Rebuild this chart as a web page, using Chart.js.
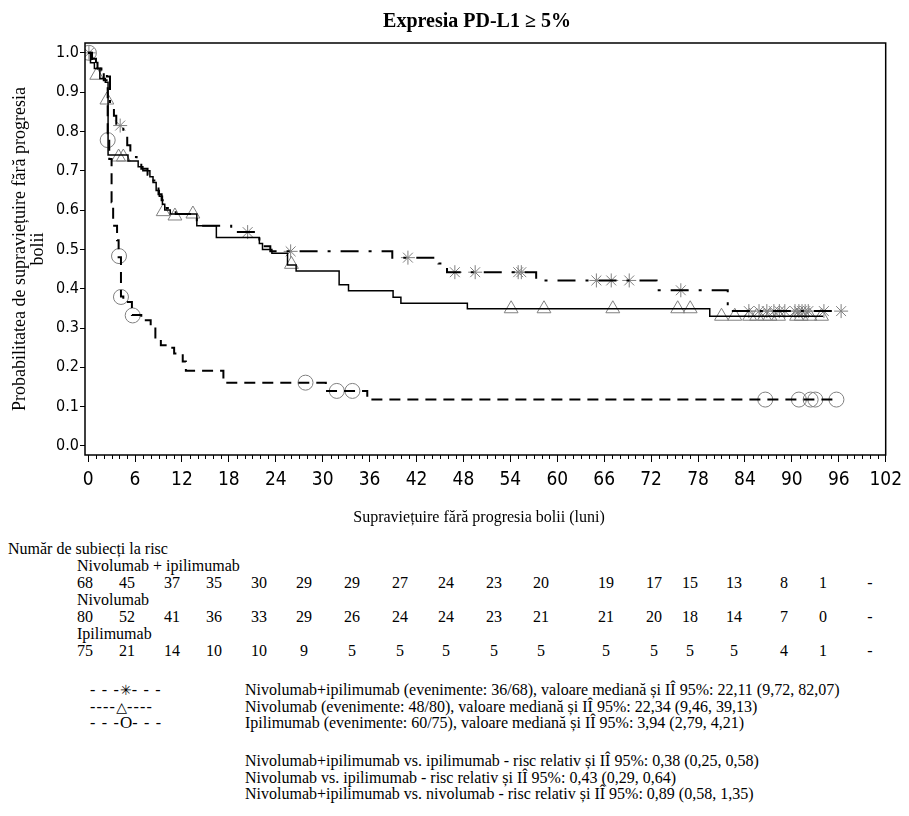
<!DOCTYPE html>
<html><head><meta charset="utf-8">
<script src="https://cdn.jsdelivr.net/npm/chart.js@4/dist/chart.umd.min.js"></script>
<style>
body{margin:0;background:#fff;}
#page{position:relative;width:909px;height:816px;overflow:hidden;background:#fff;font-family:'Liberation Serif','Times New Roman',serif;color:#000;}
#c{position:absolute;left:0;top:0;}
.t{position:absolute;white-space:nowrap;font-size:16px;line-height:18px;}
.n{transform:translateX(-50%);}
.ctr{transform:translateX(-50%);}
.ttl{font-weight:bold;font-size:20px;line-height:24px;}
.sym{letter-spacing:1.2px;}
.g{font-family:'DejaVu Sans',sans-serif;font-size:14px;letter-spacing:0;}
.o{font-size:17px;letter-spacing:0;}
</style></head>
<body><div id="page"><canvas id="c" width="909" height="540"></canvas></div>
<script>
// ---------- text ----------
const chartTitle = 'Expresia PD-L1 \u2265 5%';
const xAxisTitle = 'Supraviețuire fără progresia bolii (luni)';
const yAxisTitle = ['Probabilitatea de supraviețuire fără progresia', 'bolii'];
const riskHeader = 'Număr de subiecți la risc';
const seriesNames = ['Nivolumab + ipilimumab', 'Nivolumab', 'Ipilimumab'];

// ---------- ticks ----------
const xTicks = [0, 6, 12, 18, 24, 30, 36, 42, 48, 54, 60, 66, 72, 78, 84, 90, 96, 102];
const yTicks = [0.0, 0.1, 0.2, 0.3, 0.4, 0.5, 0.6, 0.7, 0.8, 0.9, 1.0];

// ---------- Kaplan-Meier curves (time in months, survival probability) ----------
const nivoIpiTimes = [0, 0.4, 1.0, 1.7, 2.4, 2.8, 3.3, 3.6, 4.5, 5.0, 5.4, 6.2, 6.8, 7.6, 8.2, 8.6, 9.0, 9.4, 9.9, 11.2, 13.9, 18.3, 21.9, 22.4, 23.3, 38.9, 44.8, 45.9, 57.3, 72.7, 81.8, 96.3];
const nivoIpiSurv  = [1.0, 0.985, 0.97, 0.955, 0.94, 0.865, 0.84, 0.815, 0.79, 0.765, 0.735, 0.72, 0.705, 0.69, 0.675, 0.66, 0.64, 0.625, 0.605, 0.59, 0.56, 0.544, 0.52, 0.508, 0.495, 0.479, 0.464, 0.442, 0.421, 0.396, 0.343, 0.343];

const nivoTimes = [0, 0.3, 0.8, 1.5, 2.2, 2.55, 5.1, 6.4, 7.0, 7.9, 8.3, 8.7, 9.1, 9.5, 9.8, 10.5, 13.9, 16.4, 21.9, 22.3, 23.5, 25.5, 26.6, 32.1, 33.3, 39.0, 40.0, 48.5, 79.5, 94.0];
const nivoSurv  = [1.0, 0.975, 0.96, 0.935, 0.925, 0.74, 0.725, 0.71, 0.70, 0.685, 0.67, 0.65, 0.635, 0.615, 0.60, 0.59, 0.56, 0.53, 0.515, 0.50, 0.49, 0.46, 0.445, 0.41, 0.395, 0.378, 0.363, 0.349, 0.33, 0.33];

const ipiTimes = [0, 0.5, 1.2, 2.0, 2.5, 2.7, 3.0, 3.2, 3.7, 3.9, 4.2, 4.5, 5.6, 6.8, 8.0, 8.6, 9.3, 10.2, 11.0, 12.1, 12.5, 17.3, 30.4, 35.7, 95.7];
const ipiSurv  = [1.0, 0.975, 0.96, 0.93, 0.78, 0.73, 0.62, 0.56, 0.523, 0.48, 0.38, 0.366, 0.333, 0.32, 0.303, 0.273, 0.256, 0.25, 0.235, 0.215, 0.191, 0.161, 0.14, 0.118, 0.118];

// ---------- censored observations ----------
const nivoIpiCensTimes = [0.1, 4.1, 20.4, 25.9, 40.9, 46.9, 49.5, 55.0, 55.4, 65.0, 66.9, 69.2, 75.8, 84.5, 85.8, 86.8, 87.7, 88.4, 89.1, 90.4, 90.9, 91.3, 91.7, 92.1, 94.1, 96.3];
const nivoIpiCensSurv  = [1.0, 0.815, 0.544, 0.495, 0.479, 0.442, 0.442, 0.442, 0.442, 0.421, 0.421, 0.421, 0.396, 0.343, 0.343, 0.343, 0.343, 0.343, 0.343, 0.343, 0.343, 0.343, 0.343, 0.343, 0.343, 0.343];

const nivoCensTimes = [1.1, 2.4, 3.9, 4.5, 9.6, 11.1, 13.4, 26.0, 54.1, 58.3, 67.1, 75.4, 77.0, 81.0, 82.7, 84.6, 85.5, 86.5, 87.2, 88.3, 90.6, 91.2, 92.3, 93.8];
const nivoCensSurv  = [0.943, 0.88, 0.735, 0.735, 0.596, 0.585, 0.59, 0.462, 0.349, 0.349, 0.349, 0.349, 0.349, 0.33, 0.33, 0.33, 0.33, 0.33, 0.33, 0.33, 0.33, 0.33, 0.33, 0.33];

const ipiCensTimes = [0.1, 2.5, 3.95, 4.2, 5.7, 27.8, 31.8, 33.8, 86.6, 90.9, 92.4, 93.0, 95.7];
const ipiCensSurv  = [1.0, 0.778, 0.483, 0.379, 0.332, 0.161, 0.14, 0.14, 0.118, 0.118, 0.118, 0.118, 0.118];

// ---------- number at risk (at 0, 6, ..., 102 months) ----------
const riskNivoIpi = ['68','45','37','35','30','29','29','27','24','23','20','19','17','15','13','8','1','-'];
const riskNivo    = ['80','52','41','36','33','29','26','24','24','23','21','21','20','18','14','7','0','-'];
const riskIpi     = ['75','21','14','10','10','9','5','5','5','5','5','5','5','5','5','4','1','-'];

// ---------- legend / hazard ratio texts ----------
const legendDashes = [['- - -', '- - -'], ['----', '----'], ['- - -', '- - -']];
const legendGlyphs = ['\u2733', '\u25B3', 'O'];
const legendTexts = [
  'Nivolumab+ipilimumab (evenimente: 36/68), valoare mediană și IÎ 95%: 22,11 (9,72, 82,07)',
  'Nivolumab (evenimente: 48/80), valoare mediană și IÎ 95%: 22,34 (9,46, 39,13)',
  'Ipilimumab (evenimente: 60/75), valoare mediană și IÎ 95%: 3,94 (2,79, 4,21)'
];
const hrTexts = [
  'Nivolumab+ipilimumab vs. ipilimumab - risc relativ și IÎ 95%: 0,38 (0,25, 0,58)',
  'Nivolumab vs. ipilimumab - risc relativ și IÎ 95%: 0,43 (0,29, 0,64)',
  'Nivolumab+ipilimumab vs. nivolumab - risc relativ și IÎ 95%: 0,89 (0,58, 1,35)'
];

// ---------- layout (not data) ----------
const riskColX = [85,127,172,214,259,304,352,400,446,494,541,606,654,690,734,784,823,870];
const minorStep = 1;

const pts = (ts, ss) => ts.map((t, i) => ({x: t, y: ss[i]}));
const serif = "'Liberation Serif','Times New Roman',serif";
const sans = "'Liberation Sans Narrow','DejaVu Sans Condensed','Liberation Sans',sans-serif";
const markGray = '#808080';

const framePlugin = {
  id: 'frame',
  afterDraw(chart) {
    const {ctx, chartArea: a} = chart;
    const xs = chart.scales.x;
    ctx.save();
    ctx.strokeStyle = '#000';
    ctx.lineWidth = 1.5;
    ctx.strokeRect(a.left, a.top, a.right - a.left, a.bottom - a.top);
    ctx.lineWidth = 1;
    ctx.beginPath();
    for (let m = xTicks[0]; m <= xTicks[xTicks.length - 1]; m += minorStep) {
      if (xTicks.includes(m)) continue;
      const px = Math.round(xs.getPixelForValue(m)) + 0.5;
      ctx.moveTo(px, a.bottom);
      ctx.lineTo(px, a.bottom + 4);
    }
    ctx.stroke();
    ctx.restore();
  }
};

new Chart(document.getElementById('c'), {
  type: 'line',
  data: {
    datasets: [
      {label: seriesNames[0], data: pts(nivoIpiTimes, nivoIpiSurv), stepped: true, borderColor: '#000', borderWidth: 2, borderDash: [18, 10, 3, 10], pointRadius: 0, fill: false},
      {label: seriesNames[1], data: pts(nivoTimes, nivoSurv), stepped: true, borderColor: '#000', borderWidth: 1.5, pointRadius: 0, fill: false},
      {label: seriesNames[2], data: pts(ipiTimes, ipiSurv), stepped: true, borderColor: '#000', borderWidth: 2, borderDash: [11, 7], pointRadius: 0, fill: false},
      {label: seriesNames[0] + ' cenzurat', data: pts(nivoIpiCensTimes, nivoIpiCensSurv), showLine: false, pointStyle: 'star', pointRadius: 7, pointBorderWidth: 1, borderColor: markGray, backgroundColor: 'rgba(0,0,0,0)'},
      {label: seriesNames[1] + ' cenzurat', data: pts(nivoCensTimes, nivoCensSurv), showLine: false, pointStyle: 'triangle', pointRadius: 8, pointBorderWidth: 1, borderColor: markGray, backgroundColor: 'rgba(0,0,0,0)'},
      {label: seriesNames[2] + ' cenzurat', data: pts(ipiCensTimes, ipiCensSurv), showLine: false, pointStyle: 'circle', pointRadius: 7.5, pointBorderWidth: 1, borderColor: markGray, backgroundColor: 'rgba(0,0,0,0)'}
    ]
  },
  options: {
    responsive: false,
    animation: false,
    devicePixelRatio: 1,
    layout: {padding: {left: 0, right: 20, top: 43, bottom: 0}},
    plugins: {
      legend: {display: false},
      tooltip: {enabled: false},
      title: {display: false}
    },
    scales: {
      x: {
        type: 'linear', min: -0.4, max: 102,
        afterBuildTicks: s => { s.ticks = xTicks.map(v => ({value: v})); },
        afterFit: s => { s.height = 85; },
        grid: {drawOnChartArea: false, drawTicks: true, tickLength: 7, tickColor: '#000', tickWidth: 1},
        border: {display: false},
        ticks: {color: '#000', font: {family: sans, size: 19}, padding: 7, maxRotation: 0, autoSkip: false, callback: v => String(v)},
        title: {display: false}
      },
      y: {
        type: 'linear', min: -0.023, max: 1.025,
        afterBuildTicks: s => { s.ticks = yTicks.map(v => ({value: v})); },
        afterFit: s => { s.width = 85; },
        grid: {drawOnChartArea: false, drawTicks: true, tickLength: 5, tickColor: '#000', tickWidth: 1},
        border: {display: false},
        ticks: {color: '#000', font: {family: sans, size: 16}, padding: 1, callback: v => Number(v).toFixed(1)},
        title: {display: true, text: yAxisTitle, color: '#000', font: {family: serif, size: 18, lineHeight: 1.0}, padding: {top: 11, bottom: 0}}
      }
    }
  },
  plugins: [framePlugin]
});

// ---------- titles, risk table and legend as HTML text ----------
const page = document.getElementById('page');
function addText(txt, left, top, cls) {
  const d = document.createElement('div');
  d.className = 't' + (cls ? ' ' + cls : '');
  d.style.left = left + 'px';
  d.style.top = top + 'px';
  d.textContent = txt;
  page.appendChild(d);
  return d;
}
addText(chartTitle, 477, 8, 'ctr ttl');
addText(xAxisTitle, 479, 508, 'ctr');

const riskTop = 540, riskStep = 17;
addText(riskHeader, 8, riskTop);
[riskNivoIpi, riskNivo, riskIpi].forEach((row, r) => {
  addText(seriesNames[r], 77, riskTop + riskStep * (1 + 2 * r));
  row.forEach((v, i) => addText(v, riskColX[i], riskTop + riskStep * (2 + 2 * r), 'n'));
});
const legTop = 681, legStep = 16.7;
legendGlyphs.forEach((g, i) => {
  const d = addText('', 90, legTop + legStep * i, 'sym');
  const a = document.createElement('span'); a.textContent = legendDashes[i][0];
  const m = document.createElement('span'); m.textContent = g; m.className = i === 2 ? 'o' : 'g';
  const b = document.createElement('span'); b.textContent = legendDashes[i][1];
  d.append(a, m, b);
});
legendTexts.forEach((s, i) => addText(s, 245, legTop + legStep * i));
const hrTop = 752;
hrTexts.forEach((s, i) => addText(s, 245, hrTop + legStep * i));
</script>
</body></html>
